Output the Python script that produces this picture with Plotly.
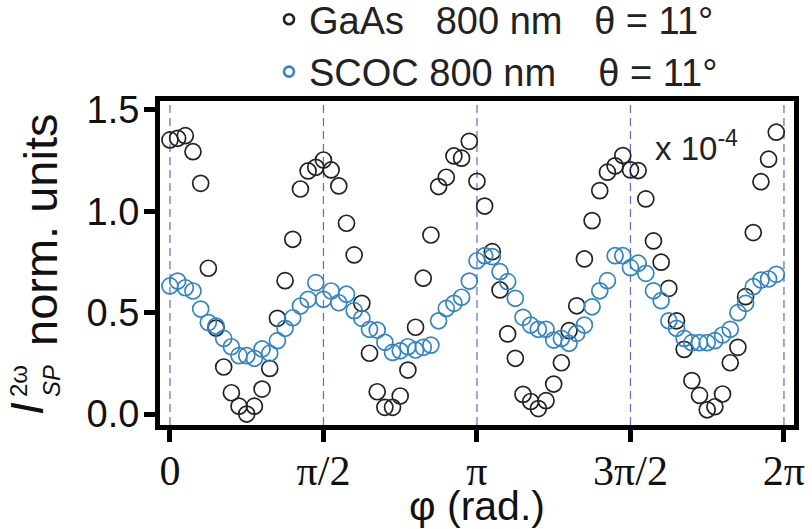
import plotly.graph_objects as go
import math

# ---- data ----
phi_deg = [0, 4.5, 9, 13.5, 18, 22.5, 27, 31.5, 36, 40.5, 45, 49.5, 54, 58.5, 63, 67.5,
           72, 76.5, 81, 85.5, 90, 94.5, 99, 103.5, 108, 112.5, 117, 121.5, 126, 130.5,
           135, 139.5, 144, 148.5, 153, 157.5, 162, 166.5, 171, 175.5, 180, 184.5, 189,
           193.5, 198, 202.5, 207, 211.5, 216, 220.5, 225, 229.5, 234, 238.5, 243, 247.5,
           252, 256.5, 261, 265.5, 270, 274.5, 279, 283.5, 288, 292.5, 297, 301.5, 306,
           310.5, 315, 319.5, 324, 328.5, 333, 337.5, 342, 346.5, 351, 355.5]

gaas = [1.352, 1.360, 1.373, 1.294, 1.138, 0.719, 0.424, 0.232, 0.105, 0.039,
        0.000, 0.039, 0.123, 0.225, 0.472, 0.658, 0.862, 1.110, 1.199, 1.217,
        1.253, 1.204, 1.125, 0.941, 0.785, 0.546, 0.300, 0.110, 0.033, 0.033,
        0.089, 0.217, 0.428, 0.670, 0.883, 1.122, 1.168, 1.273, 1.262, 1.345,
        1.148, 1.026, 0.801, 0.612, 0.395, 0.275, 0.097, 0.062, 0.027, 0.066,
        0.148, 0.253, 0.411, 0.534, 0.765, 0.954, 1.102, 1.193, 1.224, 1.275,
        1.204, 1.201, 1.061, 0.854, 0.749, 0.620, 0.460, 0.319, 0.165, 0.092,
        0.021, 0.036, 0.099, 0.253, 0.329, 0.579, 0.895, 1.146, 1.257, 1.390]

scoc = [0.632, 0.656, 0.623, 0.607, 0.518, 0.451, 0.434, 0.373, 0.332, 0.288,
        0.288, 0.275, 0.321, 0.300, 0.362, 0.423, 0.475, 0.533, 0.566, 0.648,
        0.566, 0.607, 0.549, 0.591, 0.510, 0.472, 0.418, 0.414, 0.354, 0.304,
        0.312, 0.332, 0.316, 0.329, 0.340, 0.460, 0.521, 0.546, 0.576, 0.656,
        0.756, 0.781, 0.776, 0.702, 0.653, 0.571, 0.477, 0.439, 0.418, 0.418,
        0.365, 0.373, 0.349, 0.398, 0.439, 0.529, 0.608, 0.658, 0.781, 0.781,
        0.722, 0.744, 0.694, 0.608, 0.559, 0.460, 0.423, 0.373, 0.352, 0.352,
        0.352, 0.362, 0.390, 0.418, 0.500, 0.546, 0.628, 0.661, 0.666, 0.689]

tick_vals = [0, math.pi / 2, math.pi, 3 * math.pi / 2, 2 * math.pi]
tick_text = ["0", "π/2", "π", "3π/2", "2π"]
y_ticks = [0.0, 0.5, 1.0, 1.5]

name_gaas = "GaAs\u00a0\u00a0\u00a0800 nm\u00a0\u00a0\u00a0θ = 11°"
name_scoc = "SCOC\u00a0800 nm\u00a0\u00a0\u00a0\u00a0θ = 11°"

phi = [d * math.pi / 180 for d in phi_deg]

# ---- layout geometry ----
W, H = 812, 529
L, R, T, B = 160, 18, 101, 104
PW, PH = W - L - R, H - T - B


def px(x):
    return (x - L) / PW


def py(y):
    return (H - B - y) / PH


black = "#222222"
blue = "#3484c4"
dash_col = "#5f6bc6"
sans = "Liberation Sans, Arial, sans-serif"
serif = "Liberation Serif, Times New Roman, serif"

fig = go.Figure()
fig.add_trace(go.Scatter(x=phi, y=gaas, mode="markers", showlegend=False,
                         marker=dict(symbol="circle-open", size=16, color=black,
                                     line=dict(width=1.7, color=black))))
fig.add_trace(go.Scatter(x=phi, y=scoc, mode="markers", showlegend=False,
                         marker=dict(symbol="circle-open", size=16, color=blue,
                                     line=dict(width=1.7, color=blue))))
# legend entries
fig.add_trace(go.Scatter(x=[None], y=[None], mode="markers", name=name_gaas,
                         marker=dict(symbol="circle-open", size=10, color=black,
                                     line=dict(width=2.6, color=black))))
fig.add_trace(go.Scatter(x=[None], y=[None], mode="markers", name=name_scoc,
                         marker=dict(symbol="circle-open", size=10, color=blue,
                                     line=dict(width=2.6, color=blue))))

for tv in tick_vals:
    fig.add_shape(type="line", xref="x", yref="paper", x0=tv, x1=tv, y0=0, y1=1,
                  line=dict(color=dash_col, width=1.2, dash="8px,5px"), layer="below")

annotations = [
    dict(text="x 10<sup>-4</sup>", x=px(653), y=py(146), xanchor="left", yanchor="middle",
         font=dict(family=sans, size=33, color="#222")),
    dict(text="norm. units", x=px(40), y=py(230), textangle=-90, xanchor="center",
         yanchor="middle", font=dict(family=sans, size=47, color="#111")),
    dict(text="<i>I</i>", x=px(27), y=py(409), textangle=-90, xanchor="center",
         yanchor="middle", font=dict(family=sans, size=46, color="#111")),
    dict(text="2ω", x=px(18), y=py(381), textangle=-90, xanchor="center",
         yanchor="middle", font=dict(family=sans, size=24, color="#111")),
    dict(text="<i>SP</i>", x=px(51), y=py(381), textangle=-90, xanchor="center",
         yanchor="middle", font=dict(family=sans, size=24, color="#111")),
]
for a in annotations:
    a.update(xref="paper", yref="paper", showarrow=False)

fig.update_layout(
    width=W, height=H,
    margin=dict(l=L, r=R, t=T, b=B, autoexpand=False),
    paper_bgcolor="white", plot_bgcolor="white",
    annotations=annotations,
    legend=dict(x=px(269), y=py(-12), xanchor="left", yanchor="top",
                font=dict(family=sans, size=38, color="#222"),
                bgcolor="rgba(0,0,0,0)", borderwidth=0, itemsizing="trace",
                tracegroupgap=0),
    xaxis=dict(range=[-0.102, 6.386], tickvals=tick_vals, ticktext=tick_text,
               showgrid=False, zeroline=False, showline=True, linewidth=5,
               linecolor="black", mirror=True, ticks="outside", ticklen=12,
               tickwidth=5, tickcolor="black", ticklabelstandoff=-7,
               tickfont=dict(family=serif, size=42, color="#111"),
               title=dict(text="φ (rad.)", font=dict(family=sans, size=41, color="#111"),
                          standoff=10)),
    yaxis=dict(range=[-0.054, 1.544], tickvals=y_ticks, tickformat=".1f",
               showgrid=False, zeroline=False, showline=True, linewidth=5,
               linecolor="black", mirror=True, ticks="outside", ticklen=11,
               tickwidth=5, tickcolor="black", ticklabelstandoff=-3,
               tickfont=dict(family=sans, size=38, color="#111")),
)

fig.write_html("out.html", config={"displayModeBar": False},
               post_script="document.body.style.margin='0';document.body.style.overflow='hidden';")
